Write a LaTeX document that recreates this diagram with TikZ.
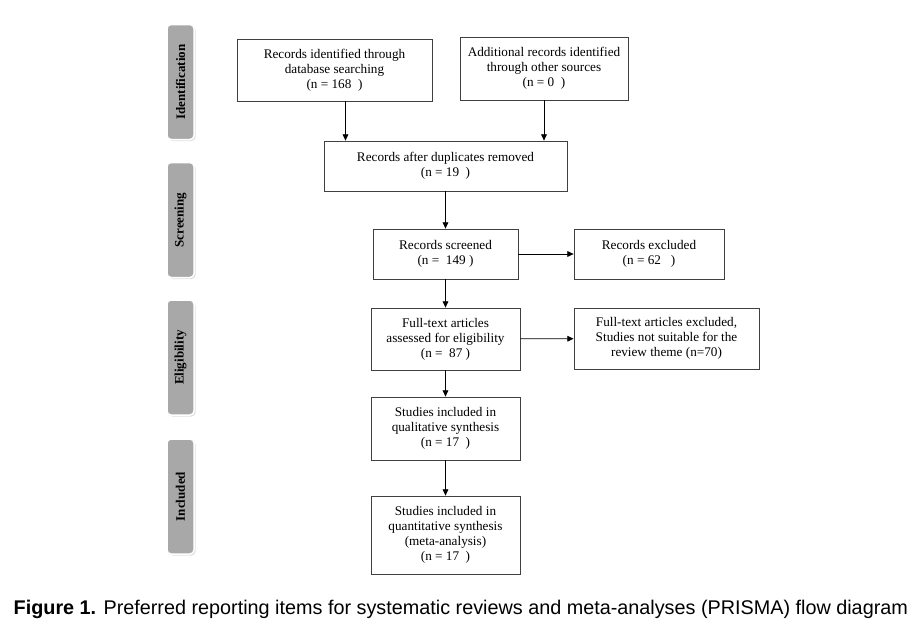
\documentclass[tikz,border=0pt]{standalone}
\usepackage{fontspec}
\setmainfont{Liberation Serif}
\setsansfont{Liberation Sans}
\usetikzlibrary{arrows.meta, positioning, shadows}
\definecolor{cline}{HTML}{404040}
\definecolor{cphase}{HTML}{A8A8A8}
\tikzset{
  every picture/.style={line width=0.8pt},
  box/.style={draw=cline, fill=white, align=center, inner sep=2pt, font=\fontsize{13.2}{15}\selectfont},
  arrow/.style={-{Triangle[length=2.2mm, width=2mm]}, draw=black, line width=0.8pt},
  phase/.style={draw=white, line width=1.5pt, fill=cphase, rounded corners=4pt, minimum width=115pt, minimum height=27pt,
    rotate=90, font=\fontsize{13}{14}\selectfont\bfseries, drop shadow={shadow xshift=1.5pt, shadow yshift=-1.5pt, fill=black!25}},
  caption/.style={font=\sffamily\fontsize{19.8}{22}\selectfont},
}
\begin{document}
\begin{tikzpicture}[x=1pt, y=-1pt]
  \useasboundingbox (0,0) rectangle (919,627);
  % phases
  \node[phase] (pid) at (180.5,82) {Identification};
  \node[phase] (psc) at (180.5,220) {Screening};
  \node[phase] (pel) at (180.5,357.5) {Eligibility};
  \node[phase] (pin) at (180.5,496.5) {Included};
  % boxes
  \node[box, minimum width=195pt, minimum height=62pt] (db) at (334.5,70) {Records identified through\\database searching\\(n = 168\ \ )};
  \node[box, minimum width=168pt, minimum height=63pt] (other) at (544,68.5) {Additional records identified\\through other sources\\(n = 0\ \ )};
  \node[box, minimum width=243pt, minimum height=50pt] (dup) at (445.5,166) {Records after duplicates removed\\(n = 19\ \ )};
  \node[box, minimum width=145pt, minimum height=50pt] (scr) at (445.5,254) {Records screened\\(n =\ \ 149 )};
  \node[box, minimum width=150pt, minimum height=50pt] (exc) at (649,254) {Records excluded\\(n = 62\ \ \ )};
  \node[box, minimum width=149pt, minimum height=62pt] (full) at (445.5,339) {Full-text articles\\assessed for eligibility\\(n =\ \ 87 )};
  \node[box, minimum width=185pt, minimum height=61pt] (fexc) at (666.5,338.5) {Full-text articles excluded,\\Studies not suitable for the\\review theme (n=70)};
  \node[box, minimum width=149pt, minimum height=63pt] (qual) at (445.5,428.5) {Studies included in\\qualitative synthesis\\(n = 17\ \ )};
  \node[box, minimum width=149pt, minimum height=78pt] (quant) at (445.5,535) {Studies included in\\quantitative synthesis\\(meta-analysis)\\(n = 17\ \ )};
  % connectors
  \draw[arrow] ([xshift=11pt]db.south) -- ([xshift=11pt]db.south |- dup.north);
  \draw[arrow] (other.south) -- (other.south |- dup.north);
  \draw[arrow] (dup) -- (scr);
  \draw[arrow] (scr) -- (exc);
  \draw[arrow] (scr) -- (full);
  \draw[arrow] (full) -- (fexc);
  \draw[arrow] (full) -- (qual);
  \draw[arrow] (qual) -- (quant);
  % caption
  \node[caption, anchor=west] (cap) at (10,609) {\textbf{Figure 1.} Preferred reporting items for systematic reviews and meta-analyses (PRISMA) flow diagram};
\end{tikzpicture}
\end{document}
